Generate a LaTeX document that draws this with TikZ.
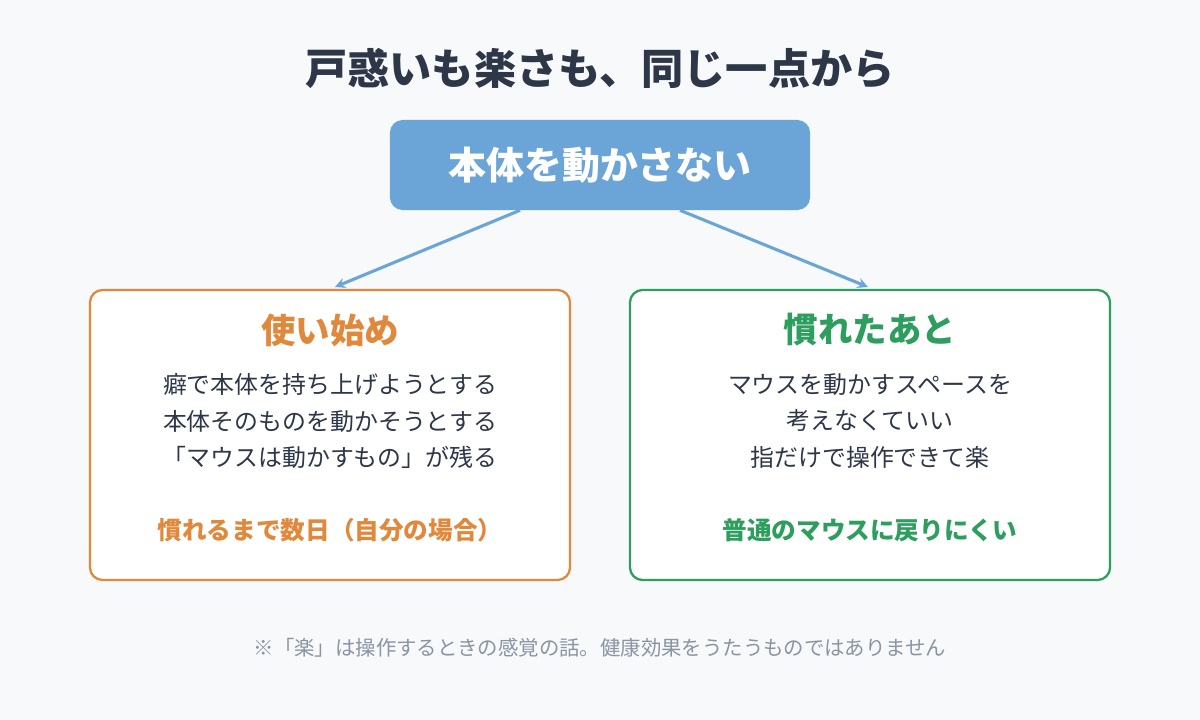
\documentclass[tikz,border=0pt]{standalone}
\usepackage{fontspec}
\setmainfont{Noto Sans CJK JP}
\usetikzlibrary{positioning}
\definecolor{bgc}{HTML}{F7F9FB}
\definecolor{ink}{HTML}{2D3748}
\definecolor{topc}{HTML}{6BA5D7}
\definecolor{orc}{HTML}{E0893C}
\definecolor{grc}{HTML}{2E9E5E}
\definecolor{notec}{HTML}{8A94A3}
\tikzset{
  panel/.style = {draw, line width=1.6pt, rounded corners=9pt, fill=white,
                  minimum width=12cm, minimum height=7.25cm},
  head/.style  = {font=\fontsize{24.5}{29}\selectfont\bfseries},
  body/.style  = {text=ink, align=center, font=\fontsize{17}{26}\selectfont},
  tail/.style  = {font=\fontsize{17.5}{21}\selectfont\bfseries},
  link/.style  = {->, topc, line width=2.2pt, >=stealth},
}
\begin{document}
\begin{tikzpicture}[x=0.025cm, y=-0.025cm]
        % ------------------------------------------------------------------------
        % Background and title
        \fill[bgc] (0, 0) rectangle (1200, 720);
        \node[text=ink, font=\fontsize{30}{35}\selectfont\bfseries] at (600, 68) (title) {戸惑いも楽さも、同じ一点から};

        \node[fill=topc, text=white, rounded corners=9pt, minimum width=10.5cm, minimum height=2.25cm,
              font=\fontsize{27}{31}\selectfont\bfseries] at (600, 165) (top) {本体を動かさない};

        % ------------------------------------------------------------------------
        % Panels
        \node[panel, draw=orc] at (330, 435) (left) {};
        \node[panel, draw=grc] at (870, 435) (right) {};

        \coordinate (lt) at (335, 287);
        \coordinate (rt) at (868, 287);
        \draw[link] (top.south -| 520, 0) -- (lt);
        \draw[link] (top.south -| 680, 0) -- (rt);

        \node[head, text=orc] at (330, 330) (lhead) {使い始め};
        \node[body] at (330, 421) (lbody) {癖で本体を持ち上げようとする\\本体そのものを動かそうとする\\「マウスは動かすもの」が残る};
        \node[tail, text=orc] at (330, 530) (ltail) {慣れるまで数日（自分の場合）};

        \node[head, text=grc] at (870, 330) (rhead) {慣れたあと};
        \node[body] at (870, 421) (rbody) {マウスを動かすスペースを\\考えなくていい\\指だけで操作できて楽};
        \node[tail, text=grc] at (870, 530) (rtail) {普通のマウスに戻りにくい};

        % ------------------------------------------------------------------------
        % Note
        \node[text=notec, font=\fontsize{14.5}{17}\selectfont] at (600, 648) (note) {※「楽」は操作するときの感覚の話。健康効果をうたうものではありません};
\end{tikzpicture}
\end{document}
